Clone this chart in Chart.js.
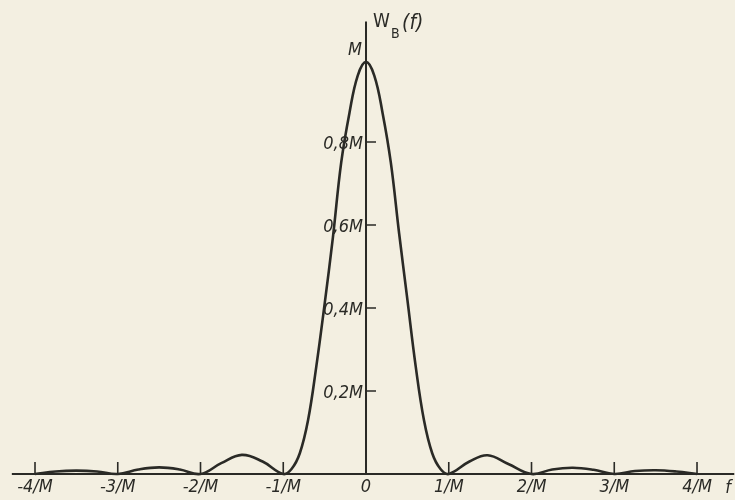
<!DOCTYPE html>
<html>
<head>
<meta charset="utf-8">
<script src="https://cdn.jsdelivr.net/npm/chart.js@4"></script>
<style>
  html, body { margin: 0; padding: 0; background: #f3efe1; }
  #wrap { width: 735px; height: 500px; }
</style>
</head>
<body>
<div id="wrap"><canvas id="myCanvas" width="735" height="500"></canvas></div>
<script>
// frequency in units of 1/M, spectrum in units of M
const freq = [-4, -3.75, -3.5, -3.25, -3, -2.75, -2.5, -2.25, -2, -1.75, -1.5, -1.25, -1,
  -0.9, -0.8, -0.7, -0.6, -0.5, -0.4, -0.3, -0.2, -0.1, 0,
  0.1, 0.2, 0.3, 0.4, 0.5, 0.6, 0.7, 0.8, 0.9, 1,
  1.25, 1.47, 1.72, 2, 2.25, 2.5, 2.75, 3, 3.25, 3.5, 3.75, 4];
const spectrum = [0, 0.006, 0.008, 0.006, 0, 0.011, 0.016, 0.011, 0, 0.026, 0.046, 0.03, 0,
  0.012, 0.05, 0.13, 0.26, 0.41, 0.57, 0.75, 0.87, 0.96, 0.993,
  0.96, 0.87, 0.75, 0.58, 0.42, 0.26, 0.13, 0.05, 0.012, 0,
  0.03, 0.045, 0.024, 0, 0.011, 0.015, 0.01, 0, 0.007, 0.009, 0.006, 0];

const xTicks = [-4, -3, -2, -1, 0, 1, 2, 3, 4];
const xTickLabels = ["-4/M", "-3/M", "-2/M", "-1/M", "0", "1/M", "2/M", "3/M", "4/M"];
const yTicks = [0.2, 0.4, 0.6, 0.8];
const yTickLabels = ["0,2M", "0,4M", "0,6M", "0,8M"];

const ink = "#2a2a26";
const family = "'DejaVu Sans Condensed', 'DejaVu Sans', sans-serif";
const labelFont = "italic 18px " + family;

const axesPlugin = {
  id: "bookAxes",
  beforeDraw(chart) {
    const { ctx, width, height } = chart;
    ctx.save();
    ctx.fillStyle = "#f3efe1";
    ctx.fillRect(0, 0, width, height);
    ctx.restore();
  },
  beforeDatasetsDraw(chart) {
    const { ctx } = chart;
    const xs = chart.scales.x, ys = chart.scales.y;
    const x0 = xs.getPixelForValue(0), y0 = ys.getPixelForValue(0);
    ctx.save();
    ctx.strokeStyle = ink;
    ctx.lineWidth = 2;
    // axes
    ctx.beginPath();
    ctx.moveTo(xs.getPixelForValue(-4.28), y0);
    ctx.lineTo(xs.getPixelForValue(4.45), y0);
    ctx.moveTo(x0, y0);
    ctx.lineTo(x0, ys.getPixelForValue(1.09));
    ctx.stroke();
    // tick marks
    ctx.lineWidth = 1.6;
    ctx.beginPath();
    xTicks.forEach(v => {
      if (v === 0) return;
      const px = xs.getPixelForValue(v);
      ctx.moveTo(px, y0);
      ctx.lineTo(px, y0 - 12);
    });
    yTicks.forEach(v => {
      const py = ys.getPixelForValue(v);
      ctx.moveTo(x0, py);
      ctx.lineTo(x0 + 10, py);
    });
    ctx.stroke();
    // labels
    ctx.fillStyle = ink;
    ctx.font = labelFont;
    ctx.textAlign = "center";
    ctx.textBaseline = "top";
    xTicks.forEach((v, i) => {
      ctx.fillText(xTickLabels[i], xs.getPixelForValue(v), y0 + 4);
    });
    ctx.textAlign = "right";
    ctx.textBaseline = "middle";
    yTicks.forEach((v, i) => {
      ctx.fillText(yTickLabels[i], x0 - 3, ys.getPixelForValue(v) + 2);
    });
    ctx.fillText("M", x0 - 4, ys.getPixelForValue(1.02));
    ctx.textAlign = "center";
    ctx.fillText("f", xs.getPixelForValue(4.375), y0 + 14);
    // axis title W_B(f)
    ctx.textAlign = "left";
    ctx.textBaseline = "alphabetic";
    ctx.font = "19px " + family;
    ctx.fillText("W", x0 + 7, 27);
    ctx.font = "14px " + family;
    ctx.fillText("B", x0 + 25, 38);
    ctx.font = "italic 21px " + family;
    ctx.fillText("(f)", x0 + 36, 29);
    ctx.restore();
  }
};

const canvas = document.getElementById("myCanvas");
const ctx = canvas.getContext("2d");

new Chart(ctx, {
  type: "line",
  data: {
    datasets: [{
      label: "W_B(f)",
      data: freq.map((f, i) => ({ x: f, y: spectrum[i] })),
      borderColor: ink,
      borderWidth: 2.6,
      pointRadius: 0,
      fill: false,
      tension: 0.4
    }]
  },
  options: {
    responsive: false,
    animation: false,
    layout: { padding: 0 },
    plugins: { legend: { display: false }, tooltip: { enabled: false } },
    scales: {
      x: { type: "linear", min: -4.423, max: 4.459, display: false },
      y: { type: "linear", min: -0.0627, max: 1.142, display: false }
    }
  },
  plugins: [axesPlugin]
});
</script>
</body>
</html>
